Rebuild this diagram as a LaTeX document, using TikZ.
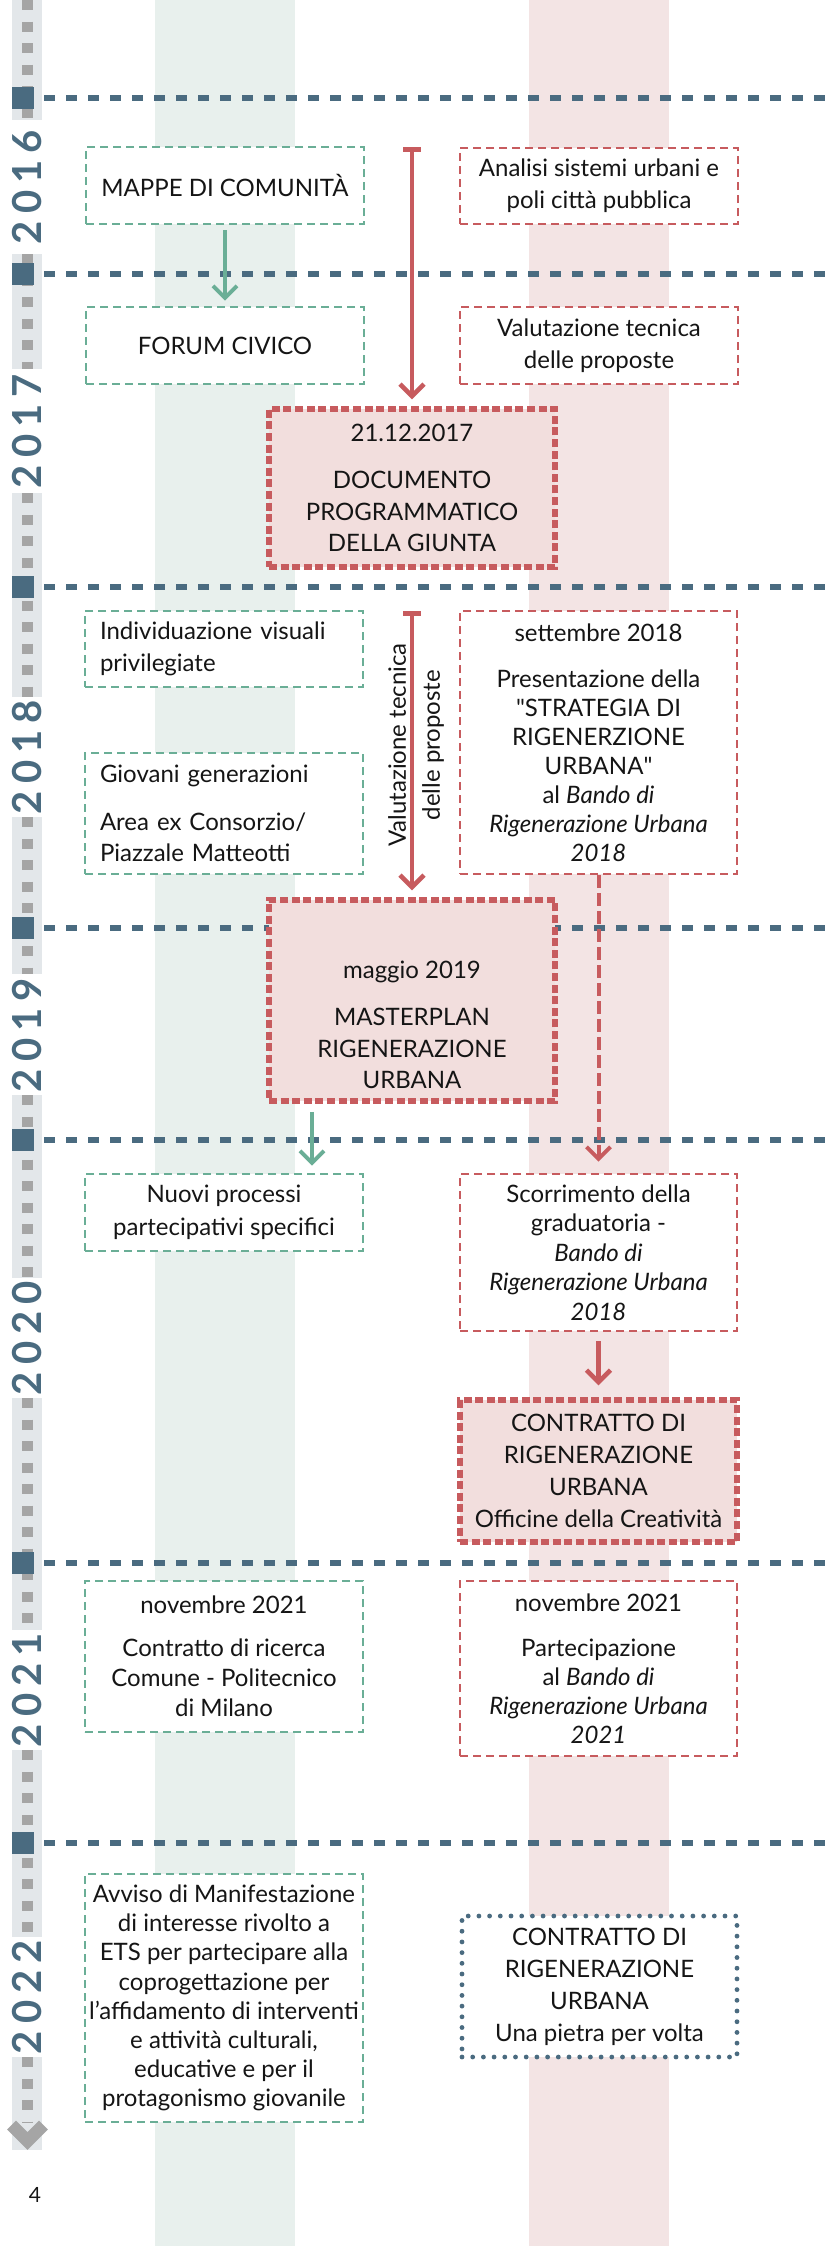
\documentclass[tikz,border=0pt]{standalone}
\usepackage{fontspec}
\setmainfont{Lato}
\newfontfamily\yearfont[LetterSpace=18]{Lato}
\newfontfamily\qfont[Ligatures=TeXOff]{Lato}
\usetikzlibrary{arrows.meta}
\definecolor{tlblue}{HTML}{4A6B80}
\definecolor{tlgreen}{HTML}{6AAE96}
\definecolor{tlred}{HTML}{C75B5E}
\definecolor{colgreen}{HTML}{E8F0ED}
\definecolor{colpink}{HTML}{F3E4E4}
\definecolor{boxpink}{HTML}{F2DEDD}
\definecolor{bandgray}{HTML}{E3E7EA}
\definecolor{sqgray}{HTML}{A5A5A5}
\definecolor{txtcol}{HTML}{151515}
\newcommand{\sq}{{\qfont"}}
\tikzset{
  vtip/.tip={Straight Barb[length=12pt,width=24pt]},
  bodytext/.style={inner sep=0pt, font=\fontsize{24}{30}\selectfont, text=txtcol, align=center},
  tbox/.style={bodytext, draw, fill=white, line width=2.6pt, dash pattern=on 8pt off 5pt},
  gbox/.style={tbox, draw=tlgreen},
  rbox/.style={tbox, draw=tlred},
  hbox/.style={bodytext, draw=tlred, fill=boxpink, line width=5.5pt, dash pattern=on 8pt off 3.6pt},
  dbox/.style={bodytext, draw=tlblue, fill=white, line width=4.8pt, dash pattern=on 0pt off 10.7pt, line cap=round},
  yearlbl/.style={inner sep=0pt, rotate=90, text=tlblue, font=\yearfont\bfseries\fontsize{40}{40}\selectfont},
  markline/.style={draw=tlblue, line width=5.5pt, dash pattern=on 11pt off 11pt},
  garr/.style={draw=tlgreen, line width=4pt, -vtip},
  rarr/.style={draw=tlred, line width=4.5pt, -vtip},
  rbar/.style={draw=tlred, line width=4.5pt, {Bar[width=18pt]}-vtip},
  rdash/.style={draw=tlred, line width=4pt, dash pattern=on 13pt off 5pt, -vtip},
}
\begin{document}
\begin{tikzpicture}[x=1pt,y=-1pt]
\useasboundingbox (0,0) rectangle (826,2246);
\fill[white] (0,0) rectangle (826,2246);
% columns
\fill[colgreen] (155,0) rectangle (295,2246);
\fill[colpink] (529,0) rectangle (669,2246);
% timeline band
\foreach \a/\b/\c in {0/120/120, 254/369/369, 493/697/697, 817/974/974, 1095/1278/1278, 1398/1630/1630, 1750/1937/1937, 2057/2150/2122}{
  \fill[bandgray] (12,\a) rectangle (42,\b);
  \draw[sqgray, line width=11pt, dash pattern=on 10pt off 11.5pt] (27.5,\a) -- (27.5,\c);
}
\draw[sqgray, line width=12.5pt, miter limit=10] (11.5,2125) -- (27.5,2141) -- (43.5,2125);
% year markers
\foreach \y in {98,274,587,928,1140,1563,1843}{
  \draw[markline] (44,\y) -- (826,\y);
  \fill[tlblue] (12,\y-11) rectangle (34,\y+11);
}
% year labels
\node[yearlbl] (y2016) at (27,187) {2016};
\node[yearlbl] (y2017) at (27,431) {2017};
\node[yearlbl] (y2018) at (27,757) {2018};
\node[yearlbl] (y2019) at (27,1035) {2019};
\node[yearlbl] (y2020) at (27,1338) {2020};
\node[yearlbl] (y2021) at (27,1690) {2021};
\node[yearlbl] (y2022) at (27,1997) {2022};
% 2016-2017
\node[gbox, minimum width=278pt, minimum height=77pt] (mappe) at (225,185.5) {MAPPE DI COMUNITÀ};
\node[gbox, minimum width=278pt, minimum height=77pt] (forum) at (225,345.5) {FORUM CIVICO};
\node[rbox, minimum width=278pt, minimum height=76pt, font=\fontsize{24}{32}\selectfont] (analisi) at (599,186) {Analisi sistemi urbani e\\poli città pubblica};
\node[rbox, minimum width=278pt, minimum height=77pt, font=\fontsize{24}{32}\selectfont] (valut) at (599,345.5) {Valutazione tecnica\\delle proposte};
\node[hbox, minimum width=286pt, minimum height=158pt, font=\fontsize{24}{31.5}\selectfont] (doc) at (412,488) {21.12.2017\\[15.5pt]DOCUMENTO\\PROGRAMMATICO\\DELLA GIUNTA};
% 2018
\node[gbox, minimum width=278pt, minimum height=76pt, align=left, text width=248pt, font=\fontsize{24}{32}\selectfont] (indiv) at (224,649) {Individuazione visuali\\privilegiate};
\node[gbox, minimum width=278pt, minimum height=121pt, align=left, text width=248pt, font=\fontsize{24}{31}\selectfont] (giovani) at (224,813.5) {Giovani generazioni\\[17pt]Area ex Consorzio/\\Piazzale Matteotti};
\node[rbox, minimum width=277pt, minimum height=263pt, font=\fontsize{24}{29}\selectfont] (sett) at (598.5,742.5) {settembre 2018\\[17pt]Presentazione della\\\sq STRATEGIA DI\\RIGENERZIONE\\URBANA\sq\\al \textit{Bando di}\\\textit{Rigenerazione Urbana}\\\textit{2018}};
\node[bodytext, rotate=90, font=\fontsize{24}{34}\selectfont] (valrot) at (416,745) {Valutazione tecnica\\delle proposte};
% 2019
\node[hbox, minimum width=286pt, minimum height=201pt] (mp) at (412,1000.5) {};
\node[bodytext, font=\fontsize{24}{31.5}\selectfont] (mptxt) at (412,1025) {maggio 2019\\[15.5pt]MASTERPLAN\\RIGENERAZIONE\\URBANA};
% 2020
\node[gbox, minimum width=278pt, minimum height=77pt, font=\fontsize{24}{33}\selectfont] (nuovi) at (224,1212.5) {Nuovi processi\\partecipativi specifici};
\node[rbox, minimum width=277pt, minimum height=157pt, font=\fontsize{24}{29.5}\selectfont] (scorr) at (598.5,1252.5) {Scorrimento della\\graduatoria -\\\textit{Bando di}\\\textit{Rigenerazione Urbana}\\\textit{2018}};
\node[hbox, minimum width=277pt, minimum height=142pt, font=\fontsize{24}{32}\selectfont] (contr) at (598.5,1471) {CONTRATTO DI\\RIGENERAZIONE\\URBANA\\Officine della Creatività};
% 2021
\node[gbox, minimum width=278pt, minimum height=151pt, font=\fontsize{24}{30}\selectfont] (novg) at (224,1656.5) {novembre 2021\\[13pt]Contratto di ricerca\\Comune - Politecnico\\di Milano};
\node[rbox, minimum width=277pt, minimum height=175pt, font=\fontsize{24}{29}\selectfont] (novr) at (598.5,1668.5) {novembre 2021\\[16pt]Partecipazione\\al \textit{Bando di}\\\textit{Rigenerazione Urbana}\\\textit{2021}};
% 2022
\node[gbox, minimum width=278pt, minimum height=248pt, font=\fontsize{24}{29.2}\selectfont] (avviso) at (224,1998) {Avviso di Manifestazione\\di interesse rivolto a\\ETS per partecipare alla\\coprogettazione per\\l’affidamento di interventi\\e attività culturali,\\educative e per il\\protagonismo giovanile};
\node[dbox, minimum width=275pt, minimum height=141pt, font=\fontsize{24}{32}\selectfont] (pietra) at (599.5,1986.5) {CONTRATTO DI\\RIGENERAZIONE\\URBANA\\Una pietra per volta};
% connectors
\coordinate (r1s) at (412,147);
\coordinate (r2s) at (412,611);
\draw[garr] ([yshift=-5pt]mappe.south) -- ([yshift=5pt]forum.north);
\draw[rbar] (r1s) -- ([yshift=7pt]doc.north);
\draw[rbar] (r2s) -- ([yshift=7pt]mp.north);
\draw[rdash] (sett.south) -- ([yshift=11pt]scorr.north);
\draw[garr] ([xshift=-100pt,yshift=-8pt]mp.south) -- ([xshift=88pt,yshift=7pt]nuovi.north);
\draw[rarr] ([yshift=-9pt]scorr.south) -- ([yshift=12pt]contr.north);
% page number
\node[inner sep=0pt, font=\fontsize{21}{21}\selectfont, text=txtcol] (pg) at (35,2195) {4};
\end{tikzpicture}
\end{document}
